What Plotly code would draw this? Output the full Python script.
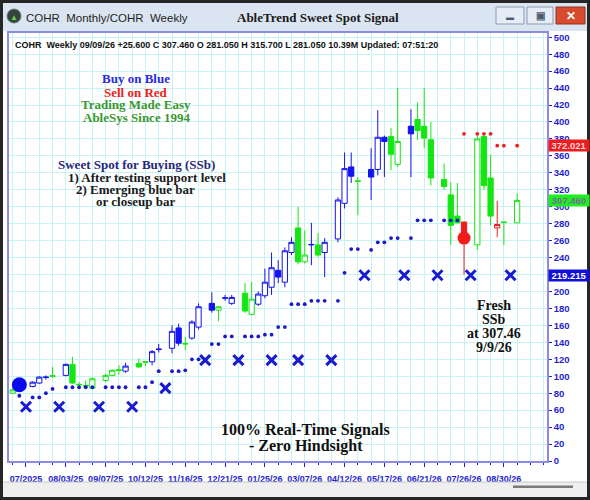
"""AbleTrend Sweet Spot Signal - COHR weekly candles with monthly stops."""

import pandas as pd
import plotly.graph_objects as go

# --- data -------------------------------------------------------------------
# weekly bars and monthly stops share one slot axis (merged, sorted dates)
week_dates = pd.date_range("2025-06-22", periods=64, freq="7D")
month_dates = pd.date_range("2025-07-01", periods=15, freq="MS")

opens = [80, 84, 88, 92, 98.5, 100, 101, 114, 90.5, 89,
         86, 95, 101, 107, 106, 115, 116.5, 117, 131.5, 133,
         157, 138, 145, 158, 186, 178, 192, 186, 198, 173,
         185, 195, 205, 225, 211, 246, 275, 235, 255, 255,
         246, 262, 304, 347, 330.5, 344, 344, 382, 383, 350,
         395, 403, 395, 379, 332, 314, 289, 282, 255, 383,
         334, 275, 282, 281.05]
highs = [86, 90, 94, 100, 101, 111, 115, 123, 93, 95,
         99, 103, 108, 113, 116, 121, 118, 131, 138, 160,
         162, 146, 166, 186, 199, 183, 196, 196, 210, 211,
         200, 227, 246, 237, 252, 264, 300, 272, 281, 269,
         263, 311, 364, 364, 335, 369, 414, 384, 393, 440,
         415, 423, 440, 400, 351, 329, 328, 282, 384, 384,
         361, 307, 282, 315.7]
lows = [79, 83, 87, 91, 96, 98, 100, 91, 87, 85,
        85, 93, 100, 102, 104, 110, 112, 113, 128, 127,
        136, 131, 143, 155, 175, 165, 189, 184, 175, 172,
        183, 192, 196, 210, 205, 243, 232, 233, 231, 241,
        217, 258, 298, 328, 290, 308, 337, 335, 343, 347,
        335, 379, 369, 325, 320, 255, 281, 220, 249, 320,
        278, 264, 255, 281.05]
closes = [84, 88, 93, 99, 99, 100.5, 114, 92, 90, 88.5,
          97, 101, 107, 107.5, 112, 111, 117, 129, 132, 153,
          139, 138.5, 164, 182, 178, 182, 192.5, 193, 177, 191,
          197, 211, 228, 217, 248, 258, 235, 243, 255.5, 243,
          258, 308, 345, 336, 330, 335, 382, 377, 362, 377,
          386, 390, 381, 334, 324, 278, 281, 266, 380, 325,
          289, 279, 281.5, 307.46]
# b = buy (blue), g = neutral (green), r = sell (red)
bar_signal = ("gbbbbgbggg" "ggggbggbbb" "bgbbbgbbgg" "bbbbbbggbg"
              "bbbbgbbbgg" "bggggggrgg" "grgg")

N = None
support = [N, 77, 75, 75, 80, 85, 87, 87, 87, 87,
           87, 87, 87, 87, 87, 87, 87, 93, 106, 106,
           106, 107, 120, 120, 138, 138, 147, 147, 147, 147,
           147, 149, 149, 158, 158, 185, 185, 185, 189, 189,
           189, 189, 222, 250, 250, 249, 258, 258, 263, 263,
           263, 284, 284, 284, 284, 284, 284, N, N, N,
           N, N, N, N]
resistance = [N] * 57 + [386, 386, 386, 386, 372, 372, 372]
monthly_stop = [64, 64, 64, 64, 86, 119, 119, 119, 119, 119,
                219.2, 219.2, 219.2, 219.2, 219.2]

buy_dot_bar, buy_dot_value = 1, 90
sell_dot_bar, sell_dot_value = 57, 263

tick_labels = ["07/2025", "08/03/25", "09/07/25", "10/12/25", "11/16/25",
               "12/21/25", "01/25/26", "03/07/26", "04/12/26", "05/17/26",
               "06/21/26", "07/26/26", "08/30/26"]
tag_values = [372.021, 307.460, 219.215]

info_line = ("COHR  Weekly 09/09/26 +25.600 C 307.460 O 281.050 H 315.700 "
             "L 281.050 10.39M Updated: 07:51:20")

# --- slot axis --------------------------------------------------------------
slots = sorted(set(week_dates) | set(month_dates))
slot_of = {d: i for i, d in enumerate(slots)}
bar_x = [slot_of[d] for d in week_dates]
month_x = [slot_of[d] for d in month_dates]

# --- page geometry helpers (pixel -> paper) ---------------------------------
W, H = 590, 500
ML, MR, MT, MB = 9, 43, 33, 39


def px(x):
    return (x - ML) / (W - ML - MR)


def py(y):
    return (H - MB - y) / (H - MT - MB)


BLUE = "#1414ee"
GREEN = "#14e614"
RED = "#f01c1c"
AXIS_BLUE = "#1e1ed2"
SERIF = "Liberation Serif"
SANS = "Liberation Sans"

fig = go.Figure()

# --- candles, one trace per signal colour -----------------------------------
for code, col in (("g", GREEN), ("b", BLUE), ("r", RED)):
    idx = [i for i, s in enumerate(bar_signal) if s == code]
    fig.add_trace(go.Candlestick(
        x=[bar_x[i] for i in idx],
        open=[opens[i] for i in idx],
        high=[highs[i] for i in idx],
        low=[lows[i] for i in idx],
        close=[closes[i] for i in idx],
        increasing=dict(line=dict(color=col, width=1), fillcolor="white"),
        decreasing=dict(line=dict(color=col, width=1), fillcolor=col),
        whiskerwidth=0,
        showlegend=False,
        hoverinfo="skip",
    ))

# --- support / resistance dots ----------------------------------------------
fig.add_trace(go.Scatter(
    x=bar_x, y=support, mode="markers",
    marker=dict(size=3.8, color="#1a1ac8"), showlegend=False, hoverinfo="skip",
))
fig.add_trace(go.Scatter(
    x=bar_x, y=resistance, mode="markers",
    marker=dict(size=3.8, color="#ee2020"), showlegend=False, hoverinfo="skip",
))

# --- monthly stops (X) ------------------------------------------------------
fig.add_trace(go.Scatter(
    x=month_x, y=monthly_stop, mode="markers",
    marker=dict(symbol="x-thin", size=10, line=dict(width=3, color="#1a1ad0")),
    showlegend=False, hoverinfo="skip",
))

# --- buy / sell signal dots -------------------------------------------------
fig.add_trace(go.Scatter(
    x=[bar_x[buy_dot_bar]], y=[buy_dot_value], mode="markers",
    marker=dict(size=15, color="#0a0af0"), showlegend=False, hoverinfo="skip",
))
fig.add_trace(go.Scatter(
    x=[bar_x[sell_dot_bar]], y=[sell_dot_value], mode="markers",
    marker=dict(size=13, color=RED), showlegend=False, hoverinfo="skip",
))

# --- window chrome ----------------------------------------------------------
shapes = [
    dict(type="rect", x0=px(0), x1=px(W), y0=py(31), y1=py(0),
         fillcolor="#dbe5f1", line=dict(width=0)),
    dict(type="rect", x0=px(0), x1=px(W), y0=py(497), y1=py(482),
         fillcolor="#efefef", line=dict(width=0)),
    dict(type="line", x0=px(0), x1=px(W), y0=py(482), y1=py(482),
         line=dict(color="#c8c8c8", width=1)),
    dict(type="rect", x0=px(513), x1=px(573), y0=py(488), y1=py(485.5),
         fillcolor="#7a7a7a", line=dict(width=0)),
    dict(type="rect", x0=px(496), x1=px(524), y0=py(24), y1=py(7),
         fillcolor="#e6edf6", line=dict(color="#8a9bb2", width=1)),
    dict(type="rect", x0=px(527), x1=px(553), y0=py(24), y1=py(7),
         fillcolor="#e6edf6", line=dict(color="#8a9bb2", width=1)),
    dict(type="rect", x0=px(556), x1=px(585), y0=py(24), y1=py(7),
         fillcolor="#d84b2f", line=dict(color="#8c3424", width=1)),
    dict(type="circle", x0=px(7), x1=px(21), y0=py(23), y1=py(9),
         fillcolor="#34443e", line=dict(color="#6c7c74", width=1)),
    dict(type="rect", x0=px(1.5), x1=px(W - 1.5), y0=py(H - 1.5), y1=py(1.5),
         line=dict(color="#262626", width=3)),
]
for s in shapes:
    s["xref"] = "paper"
    s["yref"] = "paper"

annotations = [
    dict(x=px(14), y=py(16.5), text="▲", font=dict(size=8, color="#6ccf4a")),
    dict(x=px(24), y=py(18), xanchor="left", text="COHR  Monthly/COHR  Weekly",
         font=dict(family=SANS, size=11.5, color="#1e1e1e")),
    dict(x=px(318), y=py(18), text="<b>AbleTrend Sweet Spot Signal</b>",
         font=dict(family=SERIF, size=13, color="#1a1a1a")),
    dict(x=px(510), y=py(16), text="<b>▬</b>", font=dict(size=8, color="#4a5a70")),
    dict(x=px(540), y=py(15.5), text="<b>▣</b>", font=dict(size=10, color="#4a5a70")),
    dict(x=px(570.5), y=py(15.5), text="<b>✕</b>", font=dict(size=12, color="white")),
    dict(x=px(13), y=py(45), xanchor="left", text="<b>" + info_line + "</b>",
         font=dict(family=SANS, size=9, color="#111111")),
]

# legend-style text blocks on the chart
left_block = [("Buy on Blue", "#2a2ae0", 79), ("Sell on Red", "#ee2020", 92),
              ("Trading Made Easy", "#3a9830", 104),
              ("AbleSys Since 1994", "#3a9830", 117)]
for txt, col, yy in left_block:
    annotations.append(dict(x=px(136), y=py(yy), text="<b>" + txt + "</b>",
                            font=dict(family=SERIF, size=13, color=col)))

ssb_block = [("Sweet Spot for Buying (SSb)", "#28287c", 56, 164),
             ("1) After testing support level", "#1a1a1a", 66, 177),
             ("2) Emerging blue bar", "#1a1a1a", 74, 190),
             ("or closeup bar", "#1a1a1a", 94, 202)]
for txt, col, xx, yy in ssb_block:
    annotations.append(dict(x=px(xx), y=py(yy), xanchor="left",
                            text="<b>" + txt + "</b>",
                            font=dict(family=SERIF, size=13, color=col)))

fresh_block = ["Fresh", "SSb", "at 307.46", "9/9/26"]
for k, txt in enumerate(fresh_block):
    annotations.append(dict(x=px(494), y=py(305 + 14 * k), text="<b>" + txt + "</b>",
                            font=dict(family=SERIF, size=14, color="#111111")))

bottom_block = ["100% Real-Time Signals", "- Zero Hindsight"]
for k, txt in enumerate(bottom_block):
    annotations.append(dict(x=px(306), y=py(430 + 16 * k), text="<b>" + txt + "</b>",
                            font=dict(family=SERIF, size=16, color="#111111")))

# price tags on the right axis
tag_style = [("#ee1c1c", "#f0d8d8"), ("#1cf01c", "#7a6aa0"), ("#1010d8", "white")]
for v, (bg, fg) in zip(tag_values, tag_style):
    annotations.append(dict(x=1, xref="paper", xanchor="left", xshift=1,
                            y=v, yref="y", text="<b>%.3f</b>" % v,
                            bgcolor=bg, width=40, height=11, borderpad=0,
                            font=dict(family=SANS, size=9.5, color=fg)))

for a in annotations:
    a.setdefault("xref", "paper")
    a.setdefault("yref", "paper")
    a.setdefault("xanchor", "center")
    a.setdefault("yanchor", "middle")
    a.setdefault("showarrow", False)

GRID = "#c6f3f3"
fig.update_layout(
    width=W, height=H,
    margin=dict(l=ML, r=MR, t=MT, b=MB),
    paper_bgcolor="white", plot_bgcolor="white",
    showlegend=False,
    boxgap=0.12, boxgroupgap=0.1,
    shapes=shapes, annotations=annotations,
    xaxis=dict(
        range=[-0.56, 80.5], rangeslider=dict(visible=False), automargin=False,
        tickmode="array", tickvals=list(range(2, len(slots), 6)),
        ticktext=tick_labels, tickangle=0,
        tickfont=dict(family=SANS, size=9, color=AXIS_BLUE, weight="bold"),
        ticks="outside", ticklen=4, tickcolor=AXIS_BLUE, ticklabelstandoff=4,
        showgrid=True, gridcolor=GRID, gridwidth=1, zeroline=False,
        minor=dict(tickmode="linear", tick0=0, dtick=2, showgrid=True,
                   gridcolor=GRID, ticks="outside", ticklen=2,
                   tickcolor=AXIS_BLUE),
        showline=True, linecolor="#8c8ce6", linewidth=1.5, mirror=True,
    ),
    yaxis=dict(
        side="right", range=[0, 505], tick0=0, dtick=20, automargin=False,
        tickfont=dict(family=SANS, size=9.5, color=AXIS_BLUE, weight="bold"),
        ticks="outside", ticklen=3, tickcolor=AXIS_BLUE,
        showgrid=True, gridcolor=GRID, gridwidth=1, zeroline=False,
        showline=True, linecolor="#8c8ce6", linewidth=1.5, mirror=True,
    ),
)

# the figure is exactly window-sized, so drop the page's default body margin
fig.write_html(
    "out.html",
    config={"displayModeBar": False},
    post_script="document.body.style.margin = '0';",
)
